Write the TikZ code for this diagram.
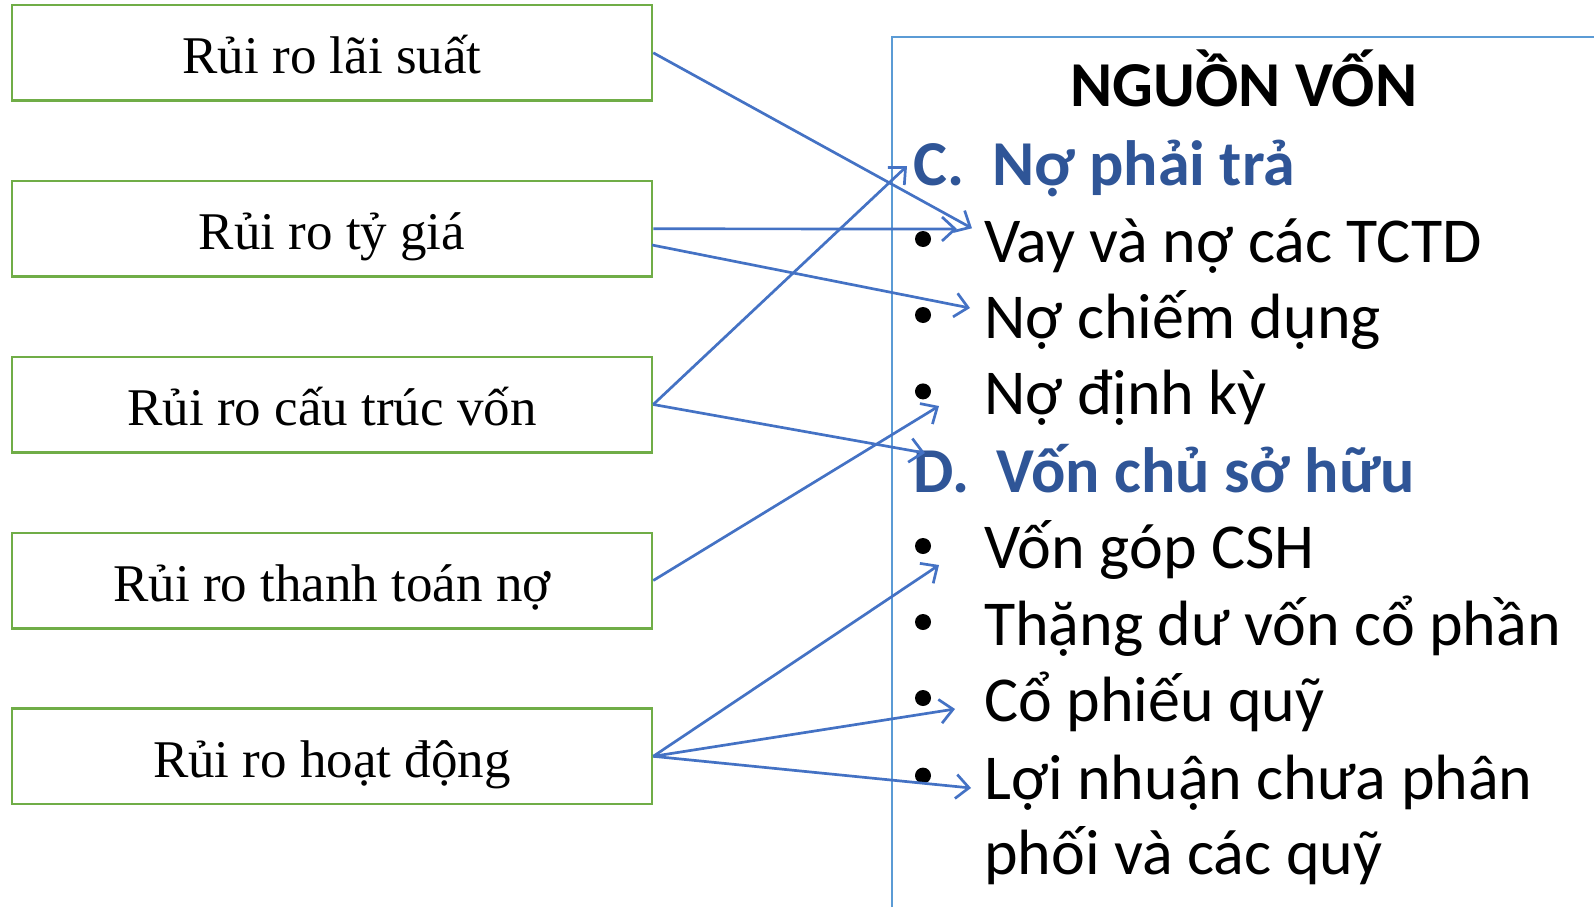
\documentclass[tikz,border=0pt]{standalone}
\usepackage{fontspec}
\setmainfont{Liberation Serif}
\newfontfamily\calfont{Carlito}
\usetikzlibrary{arrows.meta,calc}

\definecolor{boxgreen}{HTML}{70AD47}
\definecolor{arrowblue}{HTML}{4472C4}
\definecolor{panelblue}{HTML}{5B9BD5}
\definecolor{headblue}{HTML}{2F5597}

\tikzset{
  riskbox/.style={draw=boxgreen, line width=2.5pt, minimum width=640pt, minimum height=95.5pt,
    inner sep=0pt, text height=50pt, text depth=8pt, align=center,
    font=\fontsize{53}{60}\selectfont},
  link/.style={draw=arrowblue, line width=2.7pt, -{Straight Barb[length=13pt,width=24pt,line width=2.7pt]}},
  item/.style={anchor=base west, inner sep=0pt, font=\calfont\fontsize{64}{76}\selectfont},
  head/.style={anchor=base west, inner sep=0pt, text=headblue, font=\calfont\bfseries\fontsize{64}{76}\selectfont},
  dot/.style={fill=black},
}

\begin{document}
\begin{tikzpicture}[x=1pt,y=-1pt]
\useasboundingbox (0,0) rectangle (1594,907);

% risk boxes on the left
\node[riskbox] (r1) at (332,52.8)  {Rủi ro lãi suất};
\node[riskbox] (r2) at (332,228.8) {Rủi ro tỷ giá};
\node[riskbox] (r3) at (332,404.5) {Rủi ro cấu trúc vốn};
\node[riskbox] (r4) at (332,580.5) {Rủi ro thanh toán nợ};
\node[riskbox] (r5) at (332,756.3) {Rủi ro hoạt động};

% capital sources panel
\draw[panelblue, line width=2.4pt] (892,907) -- (892,37) -- (1594,37);

\node[anchor=base, inner sep=0pt, font=\calfont\bfseries\fontsize{64}{76}\selectfont] (title) at (1244,106.7) {NGUỒN VỐN};

\node[head] (hc)  at (913,185) {C.};
\node[head] (hcn) at (992,185) {Nợ phải trả};
\node[item] (i1) at (984,262.3) {Vay và nợ các TCTD};
\node[item] (i2) at (984,338.5) {Nợ chiếm dụng};
\node[item] (i3) at (984,414.8) {Nợ định kỳ};
\node[head] (hd)  at (913,492) {D.};
\node[head] (hdn) at (996,492) {Vốn chủ sở hữu};
\node[item] (i4) at (984,568.3) {Vốn góp CSH};
\node[item] (i5) at (984,645.5) {Thặng dư vốn cổ phần};
\node[item] (i6) at (984,721.8) {Cổ phiếu quỹ};
\node[item] (i7) at (984,799)   {Lợi nhuận chưa phân};
\node[item] (i8) at (984,874.3) {phối và các quỹ};

% bullets
\foreach \y in {239,315,391.4,546,622,698,775.6}
  \fill[dot] (923,\y) circle[radius=8pt];

% arrow end points
\coordinate (t1) at (972,228.3);
\coordinate (t2) at (957,229);
\coordinate (s2) at (652,245);
\coordinate (t3) at (970,308);
\coordinate (t4) at (907,166);
\coordinate (t5) at (925,453);
\coordinate (t6) at (939,406);
\coordinate (t7) at (939,565);
\coordinate (t8) at (955,709);
\coordinate (t9) at (971,788);

% links
\draw[link] (r1.east) -- (t1);
\draw[link] (r2.east) -- (t2);
\draw[link] (s2) -- (t3);
\draw[link] (r3.east) -- (t4);
\draw[link] (r3.east) -- (t5);
\draw[link] (r4.east) -- (t6);
\draw[link] (r5.east) -- (t7);
\draw[link] (r5.east) -- (t8);
\draw[link] (r5.east) -- (t9);
\end{tikzpicture}
\end{document}
